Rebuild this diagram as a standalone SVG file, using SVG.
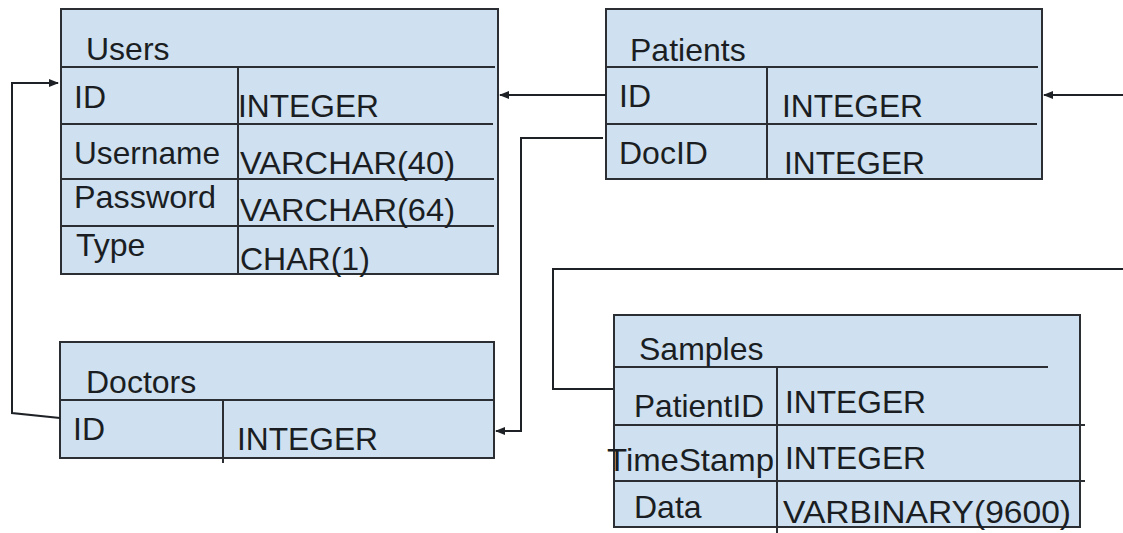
<svg xmlns="http://www.w3.org/2000/svg" width="1123" height="533" viewBox="0 0 1123 533">
  <style>
    .box { fill: #cfe0f1; stroke: #2b2f33; stroke-width: 2; }
    .rule { stroke: #2b2f33; stroke-width: 2; fill: none; }
    .t { font-family: "Liberation Sans", Arial, sans-serif; font-size: 32px; fill: #1a1e22; }
    .link { stroke: #1e2226; stroke-width: 2; fill: none; }
  </style>
  <defs>
    <marker id="arrow" viewBox="0 0 10 8" refX="9" refY="4" markerWidth="10" markerHeight="8" markerUnits="userSpaceOnUse" orient="auto">
      <path d="M0,0 L10,4 L0,8 z" fill="#1e2226"/>
    </marker>
  </defs>

  <rect width="1123" height="533" fill="#ffffff"/>

  <!-- Users table -->
  <g id="users">
    <rect class="box" x="61" y="9" width="437" height="265"/>
    <path class="rule" d="M61,67 H495 M61,124 H493 M61,179 H494 M61,226 H494 M238,67 V274"/>
    <text class="t" x="86" y="60">Users</text>
    <text class="t" x="74" y="108">ID</text>
    <text class="t" x="238" y="117" textLength="141" lengthAdjust="spacingAndGlyphs">INTEGER</text>
    <text class="t" x="74" y="164" textLength="146" lengthAdjust="spacingAndGlyphs">Username</text>
    <text class="t" x="240" y="174" textLength="215" lengthAdjust="spacingAndGlyphs">VARCHAR(40)</text>
    <text class="t" x="74" y="208" textLength="142" lengthAdjust="spacingAndGlyphs">Password</text>
    <text class="t" x="240" y="221" textLength="215" lengthAdjust="spacingAndGlyphs">VARCHAR(64)</text>
    <text class="t" x="76" y="256">Type</text>
    <text class="t" x="240" y="270">CHAR(1)</text>
  </g>

  <!-- Patients table -->
  <g id="patients">
    <rect class="box" x="606" y="9" width="436" height="170"/>
    <path class="rule" d="M606,67 H1038 M606,124 H1037 M767,67 V179"/>
    <text class="t" x="630" y="61">Patients</text>
    <text class="t" x="619" y="107">ID</text>
    <text class="t" x="782" y="117" textLength="141" lengthAdjust="spacingAndGlyphs">INTEGER</text>
    <text class="t" x="619" y="164">DocID</text>
    <text class="t" x="784" y="174" textLength="141" lengthAdjust="spacingAndGlyphs">INTEGER</text>
  </g>

  <!-- Doctors table -->
  <g id="doctors">
    <rect class="box" x="60" y="342" width="434" height="116"/>
    <path class="rule" d="M60,400 H494 M223,400 V463"/>
    <text class="t" x="86" y="393">Doctors</text>
    <text class="t" x="73" y="440">ID</text>
    <text class="t" x="237" y="450" textLength="141" lengthAdjust="spacingAndGlyphs">INTEGER</text>
  </g>

  <!-- Samples table -->
  <g id="samples">
    <rect class="box" x="614" y="315" width="466" height="212"/>
    <path class="rule" d="M614,367 H1048 M614,425 H1085 M614,481 H1085 M777,367 V533"/>
    <text class="t" x="639" y="360">Samples</text>
    <text class="t" x="634" y="417" textLength="130" lengthAdjust="spacingAndGlyphs">PatientID</text>
    <text class="t" x="785" y="413" textLength="141" lengthAdjust="spacingAndGlyphs">INTEGER</text>
    <text class="t" x="607" y="471" textLength="167" lengthAdjust="spacingAndGlyphs">TimeStamp</text>
    <text class="t" x="785" y="469" textLength="141" lengthAdjust="spacingAndGlyphs">INTEGER</text>
    <text class="t" x="634" y="518">Data</text>
    <text class="t" x="783" y="523" textLength="288" lengthAdjust="spacingAndGlyphs">VARBINARY(9600)</text>
  </g>

  <!-- Foreign-key connectors -->
  <g id="connectors">
    <!-- Doctors.ID -> Users.ID -->
    <path class="link" d="M60,418 L12,413 V83 H58" marker-end="url(#arrow)"/>
    <!-- Patients.ID -> Users.ID -->
    <path class="link" d="M606,95 H500" marker-end="url(#arrow)"/>
    <!-- Patients.DocID -> Doctors.ID -->
    <path class="link" d="M603,138 H521 V431 H496" marker-end="url(#arrow)"/>
    <!-- Samples.PatientID -> Patients.ID -->
    <path class="link" d="M613,389 H553 V269 H1123"/>
    <path class="link" d="M1123,95 H1044" marker-end="url(#arrow)"/>
  </g>
</svg>
